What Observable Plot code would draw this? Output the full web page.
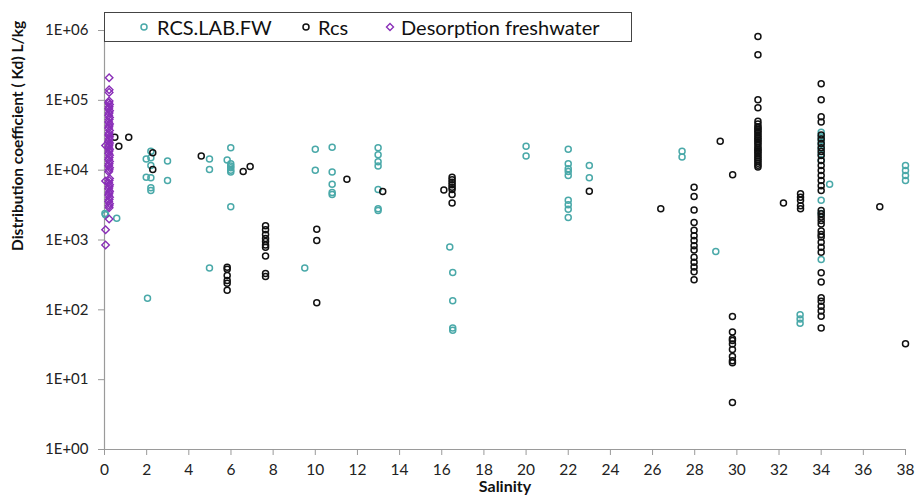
<!DOCTYPE html>
<html>
<head>
<meta charset="utf-8">
<script src="https://cdn.jsdelivr.net/npm/d3@7"></script>
<script src="https://cdn.jsdelivr.net/npm/@observablehq/plot@0.6"></script>
<style>
  html, body { margin: 0; padding: 0; background: #fff; }
  #wrap { position: relative; width: 916px; height: 496px; font-family: Lato, "Open Sans", sans-serif; overflow: hidden; }
  #legend { position: absolute; left: 104px; top: 12px; width: 528px; height: 30px; border: 1px solid #444; background: #fff; box-sizing: border-box; }
  #legend .item { position: absolute; top: 0; height: 28px; line-height: 28px; font-size: 20px; color: #111; white-space: nowrap; }
  #legend svg { position: absolute; top: 9px; }
</style>
</head>
<body>
<div id="wrap">
  <div id="chart"></div>
  <div id="legend"></div>
</div>
<script>
// ---- Data (salinity, Kd L/kg) ----
const seriesNames = ["RCS.LAB.FW", "Rcs", "Desorption freshwater"];
const seriesColors = ["#4aa9a9", "#111111", "#8a2fb8"];

const rcsLabSalinity = [0.02,0.05,0.58,
  1.98,2.2,2.2,2.2,1.98,2.2,2.2,2.2,2.99,2.99,2.04,
  4.98,4.98,5.99,5.82,5.99,5.99,5.99,5.99,5.99,5.99,4.98,
  9.5,10.0,10.0,10.8,10.8,10.8,10.8,10.8,
  12.98,12.98,12.98,12.98,12.98,12.98,12.98,
  16.38,16.52,16.52,16.52,16.52,
  20,20,
  22,22,22,22,22,22,22,22,22,
  23,23,
  27.4,27.4,29.0,
  33.0,33.0,33.0,
  34,34,34,34,34,34,34,34,34,34,
  34.4,
  38,38,38,38];
const rcsLabKd = [2400,2300,2050,
  14500,18600,15000,11700,7900,7800,5600,5100,13500,7100,147,
  14500,10200,21000,14000,12400,11500,10800,10000,9400,3000,396,
  396,19900,10000,21300,9400,6300,4800,4500,
  21000,16600,13200,11500,5300,2800,2650,
  795,343,135,55,51,
  22000,16000,
  20000,12400,10500,9600,8400,3700,3200,2750,2100,
  11700,7800,
  18700,15400,685,
  85,74,64,
  35000,30000,26600,23500,20300,17000,13800,3700,2400,525,
  6300,
  11700,9900,8400,7100];

const rcsSalinity = [0.49,0.68,1.15,2.29,2.29,
  4.59,6.58,6.91,
  5.82,5.82,5.82,5.82,5.82,5.82,
  7.64,7.64,7.64,7.64,7.64,7.64,7.64,7.64,7.64,7.64,
  10.07,10.07,10.07,
  11.5,13.2,16.1,
  16.49,16.49,16.49,16.49,16.49,16.49,16.49,16.49,
  23,26.39,29.21,29.8,
  27.97,27.97,27.97,27.97,27.97,27.97,27.97,27.97,27.97,27.97,27.97,27.97,27.97,27.97,
  29.79,29.79,29.79,29.79,29.79,29.79,29.79,29.79,29.79,29.79,
  31,31,31,31,31,31,31,31,31,31,31,31,31,31,31,31,31,31,31,31,31,31,31,31,31,31,31,31,31,31,
  32.21,
  33.02,33.02,33.02,33.02,33.02,
  34,34,34,34,34,34,34,34,34,34,34,34,34,34,34,34,34,34,34,34,34,34,34,34,34,34,34,34,34,34,34,34,34,34,34,34,
  36.78,38];
const rcsKd = [29700,22000,29700,17800,10200,
  16000,9600,11300,
  407,380,310,263,240,190,
  1600,1400,1200,1050,950,850,790,590,330,300,
  1430,980,126,
  7400,4950,5200,
  7900,7300,6700,6200,5700,5300,4500,3400,
  5000,2800,26000,8600,
  5700,4200,2700,1780,1380,1150,980,830,720,565,480,410,350,270,
  80,48,38.5,36.3,32.5,27,21.5,18.7,17.4,4.7,
  820000,450000,102000,78000,50000,46000,42000,40000,38000,36000,34000,32000,30000,28500,27000,25500,24000,22500,21000,20000,19000,18000,17000,16000,15000,14200,13400,12600,11800,11100,
  3400,
  4600,4100,3700,3100,2800,
  173000,102000,58000,49000,32000,28000,24000,21000,18500,16200,13800,11700,9900,8400,7100,6000,5100,2650,2370,2140,1900,1700,1350,1200,1100,930,790,670,340,250,149,133,113,96,81,55,
  3000,32.6];

const desorpSalinity = [0.22,0.22,0.22,
  0.22,0.2,0.24,0.22,0.2,0.24,0.22,0.2,0.24,0.22,0.2,0.24,0.22,0.2,0.24,0.22,0.2,0.24,0.22,0.2,0.24,0.22,0.2,0.24,0.22,0.2,0.24,0.22,0.2,0.24,0.22,0.2,0.24,
  0.22,0.2,0.24,0.22,0.2,0.24,0.22,0.2,0.24,0.22,0.2,0.24,0.22,0.2,0.24,
  0.22,0.22,0.22,
  0.05,0.05,0.05,0.05];
const desorpKd = [210000,142000,130000,
  98000,92000,87000,81000,76000,71000,66000,61000,57000,53000,49000,46000,43000,40000,37000,34000,32000,30000,28000,26000,24500,23000,21500,20000,18800,17500,16300,15200,14200,13300,12400,11600,10800,10100,9500,
  7600,7100,6600,6200,5800,5400,5000,4700,4400,4100,3800,3550,3300,3100,2900,
  2000,1400,850,
  22500,7000,6000,5500];

const xTicks = [0,2,4,6,8,10,12,14,16,18,20,22,24,26,28,30,32,34,36,38];
const yTicks = [1,10,100,1000,10000,100000,1000000];
const yTickLabels = ["1E+00","1E+01","1E+02","1E+03","1E+04","1E+05","1E+06"];
const xTitle = "Salinity";
const yTitle = "Distribution coefficient ( Kd) L/kg";

const toRows = (xs, ys, s) => xs.map((x, i) => ({salinity: x, kd: ys[i], series: s}));
const labRows = toRows(rcsLabSalinity, rcsLabKd, seriesNames[0]);
const rcsRows = toRows(rcsSalinity, rcsKd, seriesNames[1]);
const desRows = toRows(desorpSalinity, desorpKd, seriesNames[2]);

const axisColor = "#9a9a9a";

const chart = Plot.plot({
  width: 916,
  height: 496,
  marginLeft: 104,
  marginRight: 11,
  marginTop: 30,
  marginBottom: 47,
  style: {fontFamily: "Lato, 'Open Sans', sans-serif", background: "#fff", overflow: "visible"},
  x: {domain: [0, 38]},
  y: {type: "log", domain: [1, 1e6]},
  marks: [
    Plot.ruleX([0], {stroke: axisColor, strokeWidth: 1.2}),
    Plot.ruleY([1], {stroke: axisColor, strokeWidth: 1.2}),
    Plot.axisX({ticks: xTicks, tickSize: 6, tickPadding: 8, fontSize: 15.5, stroke: axisColor, fill: "#222", label: null}),
    Plot.axisY({ticks: yTicks, tickSize: 6, tickPadding: 10, fontSize: 15, stroke: axisColor, fill: "#222", label: null,
      tickFormat: d => yTickLabels[yTicks.indexOf(d)]}),
    Plot.dot(labRows, {x: "salinity", y: "kd", symbol: "circle", r: 3, stroke: seriesColors[0], strokeWidth: 1.5, fill: "none"}),
    Plot.dot(rcsRows, {x: "salinity", y: "kd", symbol: "circle", r: 3, stroke: seriesColors[1], strokeWidth: 1.5, fill: "none"}),
    Plot.dot(desRows, {x: "salinity", y: "kd", symbol: "diamond2", r: 3.4, stroke: seriesColors[2], strokeWidth: 1.4, fill: "none"}),
    Plot.text([xTitle], {frameAnchor: "bottom", dy: 42, lineAnchor: "bottom", text: d => d, fontSize: 16, fontWeight: "bold", fill: "#111"}),
    Plot.text([yTitle], {frameAnchor: "left", dx: -86, dy: 11, rotate: -90, text: d => d, fontSize: 15.5, fontWeight: "bold", fill: "#111"})
  ]
});
document.getElementById("chart").appendChild(chart);

// Legend (overlaps top of plot area as in the reference)
const legend = document.getElementById("legend");
const legendPos = [{m: 39, t: 52}, {m: 201, t: 213}, {m: 285, t: 296}];
seriesNames.forEach((name, i) => {
  const mk = document.createElementNS("http://www.w3.org/2000/svg", "svg");
  mk.setAttribute("width", 10); mk.setAttribute("height", 10);
  mk.style.left = (legendPos[i].m - 5) + "px";
  if (i === 2) {
    mk.innerHTML = `<path d="M5,1.5L8.5,5L5,8.5L1.5,5Z" fill="none" stroke="${seriesColors[i]}" stroke-width="1.4"/>`;
  } else {
    mk.innerHTML = `<circle cx="5" cy="5" r="3" fill="none" stroke="${seriesColors[i]}" stroke-width="1.5"/>`;
  }
  legend.appendChild(mk);
  const t = document.createElement("div");
  t.className = "item";
  t.style.left = legendPos[i].t + "px";
  t.textContent = name;
  legend.appendChild(t);
});
</script>
</body>
</html>
